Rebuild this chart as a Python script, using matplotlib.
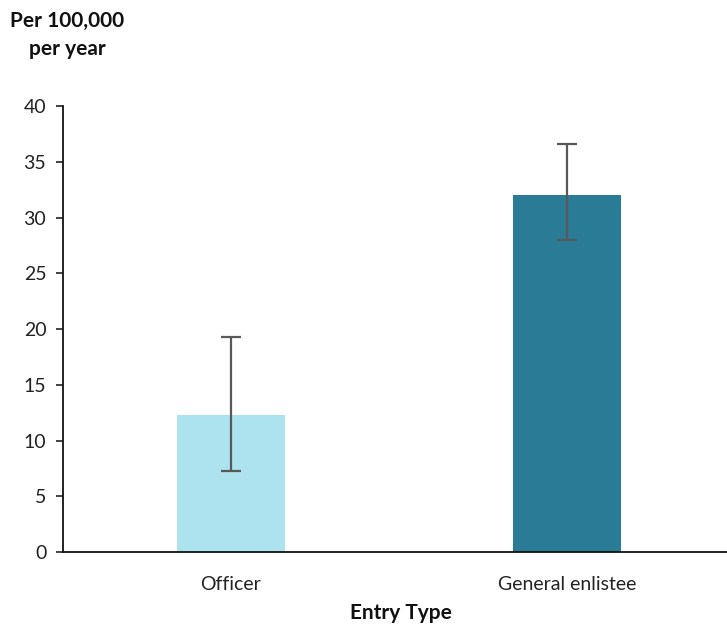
import matplotlib
matplotlib.use("Agg")
import matplotlib.pyplot as plt

categories = ["Officer", "General enlistee"]
rates = [12.3, 32.0]
ci_low = [7.3, 28.0]
ci_high = [19.3, 36.6]
bar_colors = ["#ade3ee", "#2a7b96"]
y_ticks = [0, 5, 10, 15, 20, 25, 30, 35, 40]

plt.rcParams["font.family"] = ["Lato", "DejaVu Sans"]

fig = plt.figure(figsize=(7.27, 6.26), dpi=100)
ax = fig.add_axes([0.0867, 0.118, 0.924, 0.7127])

x = list(range(len(categories)))
yerr = [[r - lo for r, lo in zip(rates, ci_low)],
        [hi - r for r, hi in zip(rates, ci_high)]]
ax.bar(x, rates, width=0.32, color=bar_colors, zorder=2)
ax.errorbar(x, rates, yerr=yerr, fmt="none", ecolor="#595959",
            elinewidth=1.6, capsize=7, capthick=1.6, zorder=3)

ax.set_xlim(-0.5, 1.5)
ax.set_ylim(0, 40)
ax.set_yticks(y_ticks)
ax.set_xticks(x)
ax.set_xticklabels(categories)
ax.tick_params(axis="y", direction="out", length=5, width=1.2,
               colors="#222222", labelsize=14, pad=7)
ax.tick_params(axis="x", length=0, labelsize=14, pad=17,
               labelcolor="#222222")
for s in ("top", "right"):
    ax.spines[s].set_visible(False)
for s in ("left", "bottom"):
    ax.spines[s].set_linewidth(1.3)
    ax.spines[s].set_color("#111111")

fig.text(401 / 727, 1 - 613 / 626, "Entry Type", ha="center", va="center",
         fontsize=15, fontweight="bold", color="#111111")
fig.text(67 / 727, 1 - 35 / 626, "Per 100,000\nper year", ha="center",
         va="center", fontsize=15, fontweight="bold", color="#111111",
         linespacing=1.45)

fig.savefig("out.png", dpi=100)
